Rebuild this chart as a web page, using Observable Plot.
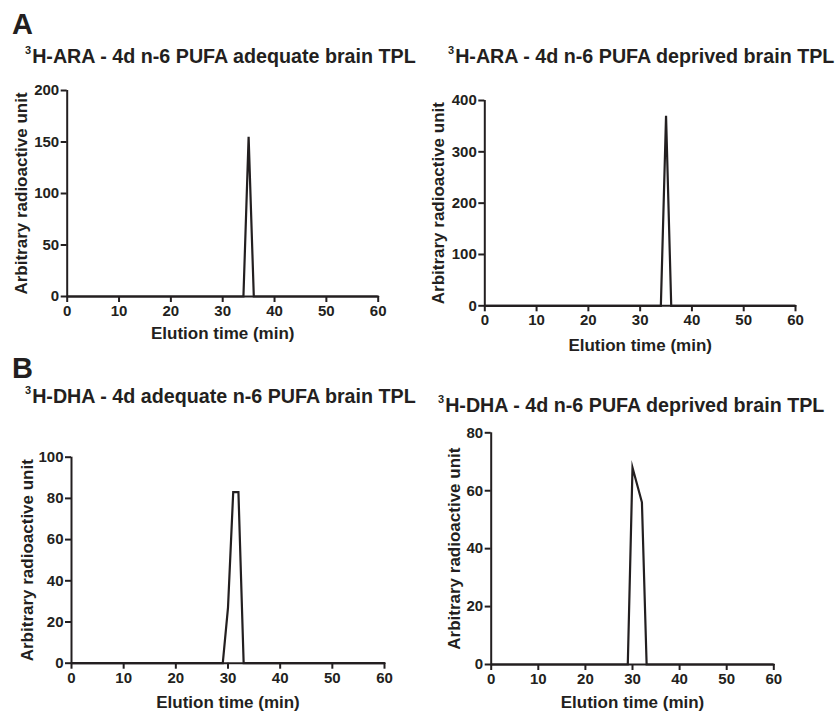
<!DOCTYPE html>
<html><head><meta charset="utf-8">
<script src="https://cdn.jsdelivr.net/npm/d3@7"></script>
<script src="https://cdn.jsdelivr.net/npm/@observablehq/plot@0.6"></script>
<style>
html,body{margin:0;padding:0;background:#fff;}
#fig{position:relative;width:838px;height:712px;font-family:"Liberation Sans",Arial,sans-serif;color:#231f20;overflow:hidden;}
.abs{position:absolute;white-space:nowrap;font-weight:bold;line-height:1;}
.letter{font-size:29px;}
.title{font-size:19.7px;}
.title sup{font-size:11px;vertical-align:0;position:relative;top:-9px;margin-right:1px;}
.panel{position:absolute;}
.panel text{font-weight:bold !important;}
</style>
</head><body>
<div id="fig"></div>
<script>
const INK = "#231f20";
const FONT = "'Liberation Sans', Arial, sans-serif";

const panelLetters = ["A", "B"];
const titleTexts = [
  "H-ARA - 4d n-6 PUFA adequate brain TPL",
  "H-ARA - 4d n-6 PUFA deprived brain TPL",
  "H-DHA - 4d adequate n-6 PUFA brain TPL",
  "H-DHA - 4d n-6 PUFA deprived brain TPL"
];
const isotopeMark = "3";
const yLabel = "Arbitrary radioactive unit";
const xLabel = "Elution time (min)";
const xTicks = [0, 10, 20, 30, 40, 50, 60];

const araAdequateTime = [0, 34, 35, 36, 60];
const araAdequateValue = [0, 0, 155, 0, 0];
const araDeprivedTime = [0, 34, 35, 36, 60];
const araDeprivedValue = [0, 0, 370, 0, 0];
const dhaAdequateTime = [0, 29, 30, 31, 32, 33, 60];
const dhaAdequateValue = [0, 0, 27, 83, 83, 0, 0];
const dhaDeprivedTime = [0, 29, 30, 32, 33, 60];
const dhaDeprivedValue = [0, 0, 68, 56, 0, 0];

const yTicksAraAdequate = [0, 50, 100, 150, 200];
const yTicksAraDeprived = [0, 100, 200, 300, 400];
const yTicksDhaAdequate = [0, 20, 40, 60, 80, 100];
const yTicksDhaDeprived = [0, 20, 40, 60, 80];

const fig = document.getElementById("fig");

function addText(cls, html, left, baseline, size) {
  const d = document.createElement("div");
  d.className = "abs " + cls;
  d.innerHTML = html;
  d.style.left = left + "px";
  d.style.top = (baseline - 0.847 * size) + "px";
  fig.appendChild(d);
}

addText("letter", panelLetters[0], 12, 35, 29);
addText("letter", panelLetters[1], 12, 379, 29);
const titlePos = [[25, 64], [448, 64], [25, 404], [438, 413]];
titleTexts.forEach((t, i) => addText("title", "<sup>" + isotopeMark + "</sup>" + t, titlePos[i][0], titlePos[i][1], 19.7));

function panel({time, value, yTicks, left, top, width, height, ml, mr, mt, mb, yDx, xDy}) {
  const data = time.map((t, i) => ({t, v: value[i]}));
  const p = Plot.plot({
    width, height,
    marginLeft: ml, marginRight: mr, marginTop: mt, marginBottom: mb,
    style: {fontFamily: FONT, fontSize: "15px", fontWeight: "bold", color: INK, background: "transparent", overflow: "visible"},
    x: {domain: [0, 60]},
    y: {domain: [yTicks[0], yTicks[yTicks.length - 1]]},
    marks: [
      Plot.axisX({ticks: xTicks, tickSize: 6, tickPadding: 3, strokeWidth: 2, label: null, fill: INK, stroke: INK, fontSize: 15, fontWeight: "bold"}),
      Plot.axisY({ticks: yTicks, tickSize: 6, tickPadding: 2, strokeWidth: 2, label: null, fill: INK, stroke: INK, fontSize: 15, fontWeight: "bold"}),
      Plot.ruleY([0], {stroke: INK, strokeWidth: 2}),
      Plot.ruleX([0], {stroke: INK, strokeWidth: 2}),
      Plot.line(data, {x: "t", y: "v", stroke: INK, strokeWidth: 2.2, strokeLinejoin: "miter", strokeMiterlimit: 10}),
      Plot.text([xLabel], {frameAnchor: "bottom", dy: xDy, fontSize: 17, fontWeight: "bold", fill: INK, textAnchor: "middle"}),
      Plot.text([yLabel], {frameAnchor: "left", dx: yDx, rotate: -90, fontSize: 17, fontWeight: "bold", fill: INK, textAnchor: "middle", lineAnchor: "middle"})
    ]
  });
  p.classList.add("panel");
  p.style.left = left + "px";
  p.style.top = top + "px";
  fig.appendChild(p);
}

panel({time: araAdequateTime, value: araAdequateValue, yTicks: yTicksAraAdequate,
  left: 0, top: 70, width: 420, height: 290, ml: 66.7, mr: 42.3, mt: 20, mb: 64, yDx: -46, xDy: 42});
panel({time: araDeprivedTime, value: araDeprivedValue, yTicks: yTicksAraDeprived,
  left: 420, top: 70, width: 418, height: 290, ml: 64.3, mr: 43, mt: 30, mb: 54.7, yDx: -46, xDy: 45});
panel({time: dhaAdequateTime, value: dhaAdequateValue, yTicks: yTicksDhaAdequate,
  left: 0, top: 420, width: 420, height: 292, ml: 71, mr: 36, mt: 36.7, mb: 49.3, yDx: -44, xDy: 45});
panel({time: dhaDeprivedTime, value: dhaDeprivedValue, yTicks: yTicksDhaDeprived,
  left: 420, top: 420, width: 418, height: 292, ml: 70.7, mr: 64.7, mt: 12.3, mb: 48, yDx: -37, xDy: 43});
</script>
</body></html>
